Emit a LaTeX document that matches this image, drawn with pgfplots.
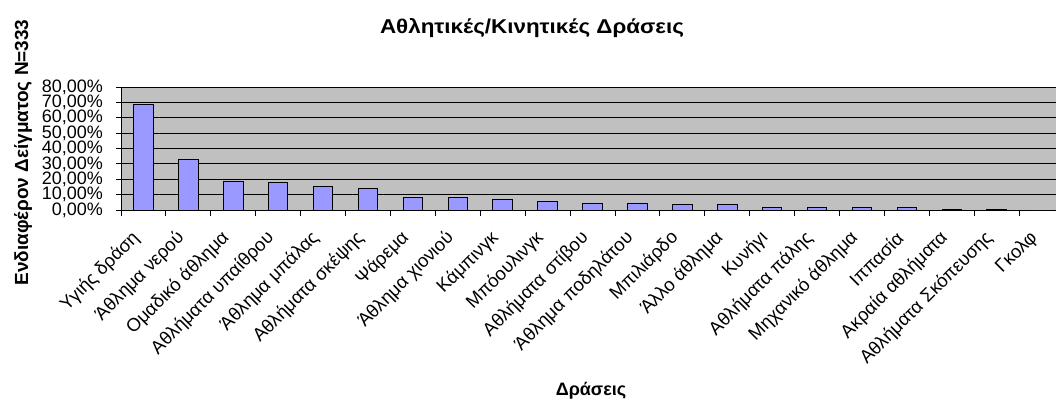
\documentclass[border=0pt]{standalone}
\usepackage{fontspec}
\setmainfont{Liberation Sans}
\usepackage{pgfplots}
\pgfplotsset{compat=1.18}
\definecolor{barblue}{HTML}{9999FF}
\definecolor{plotgray}{HTML}{C0C0C0}
\begin{document}
\begin{tikzpicture}[x=1pt,y=1pt]
\path[use as bounding box] (0,0) rectangle (1056,400);
\begin{axis}[
  at={(121pt,190pt)}, anchor=south west,
  scale only axis, width=935pt, height=123pt,
  xmin=-0.5, xmax=20.32, ymin=0, ymax=80,
  axis background/.style={fill=plotgray},
  axis x line*=bottom, axis y line*=left,
  axis line style={-, black, line width=1pt},
  ymajorgrids, grid style={black, line width=1pt},
  ytick={0,10,...,80},
  yticklabels={{0,00\%},{10,00\%},{20,00\%},{30,00\%},{40,00\%},{50,00\%},{60,00\%},{70,00\%},{80,00\%}},
  yticklabel style={font=\fontsize{18}{18}\selectfont, inner sep=0pt, xshift=-13pt},
  xtick={0,...,20},
  xticklabels={Υγιής δράση,Άθλημα νερού,Ομαδικό άθλημα,Αθλήματα υπαίθρου,Άθλημα μπάλας,Αθλήματα σκέψης,Ψάρεμα,Άθλημα χιονιού,Κάμπινγκ,Μπόουλινγκ,Αθλήματα στίβου,Άθλημα ποδηλάτου,Μπιλιάρδο,Άλλο άθλημα,Κυνήγι,Αθλήματα πάλης,Μηχανικό άθλημα,Ιππασία,Ακραία αθλήματα,Αθλήματα Σκόπευσης,Γκολφ},
  xticklabel style={xshift=-7pt, yshift=-20pt, rotate=45, anchor=east, inner sep=0pt, font=\fontsize{18.5}{18.5}\selectfont},
  major x tick style={draw=none},
  minor xtick={-0.5,0.5,...,19.5},
  minor x tick style={black, line width=1pt},
  y tick style={black, line width=1pt},
  tick align=outside,
  major tick length=5pt, minor tick length=6pt,
  ybar, bar width=19.5pt,
]
\addplot[fill=barblue, draw=black, line width=1pt] coordinates {
(0,68.8) (1,32.7) (2,18.6) (3,17.7) (4,15.6) (5,13.8) (6,8.4) (7,8.4)
(8,6.9) (9,5.7) (10,4.5) (11,4.5) (12,3.6) (13,3.6) (14,1.8) (15,1.8)
(16,1.8) (17,1.8) (18,0.6) (19,0.6) (20,0)
};
\end{axis}
\node[anchor=base, xscale=1.12, font=\bfseries\fontsize{20}{24}\selectfont] at (532,366.5) {Αθλητικές/Κινητικές Δράσεις};
\node[anchor=base, font=\bfseries\fontsize{18}{20}\selectfont] at (591,4.5) {Δράσεις};
\node[rotate=90, font=\bfseries\fontsize{19}{21}\selectfont] at (23,247.5) {Ενδιαφέρον Δείγματος N=333};
\end{tikzpicture}
\end{document}
